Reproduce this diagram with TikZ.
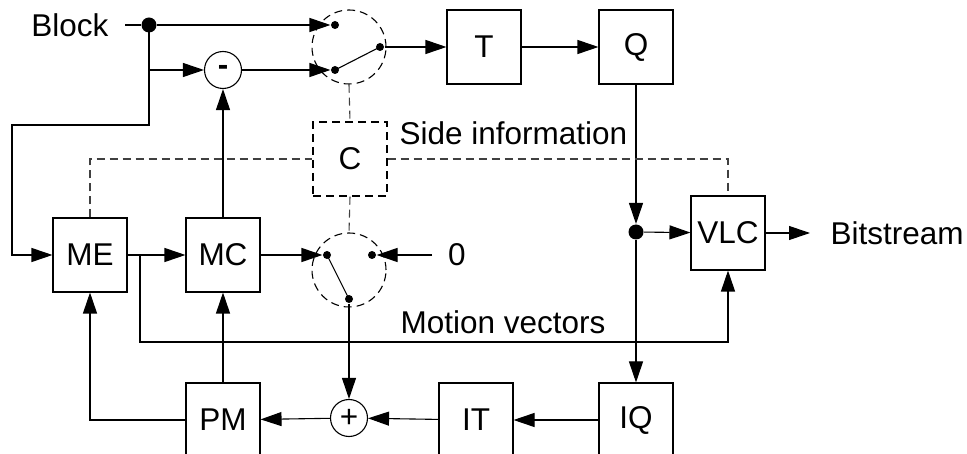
\documentclass[tikz,border=0pt]{standalone}
\usepackage{fontspec}
\setmainfont{Liberation Sans}
\usetikzlibrary{arrows.meta}
\begin{document}
\begin{tikzpicture}[x=1pt,y=-1pt,
  font=\fontsize{31.5}{37}\selectfont,
  line width=1.1pt,
  box/.style={draw, minimum width=74pt, minimum height=74pt, inner sep=0pt},
  sumnode/.style={draw, circle, minimum size=37pt, inner sep=0pt},
  swcirc/.style={draw, dashed, dash pattern=on 8pt off 5pt, circle, minimum size=74pt, inner sep=0pt},
  dbox/.style={draw, dash pattern=on 8pt off 5pt, minimum width=74pt, minimum height=74pt, inner sep=0pt},
  jdot/.style={fill, circle, minimum size=15pt, inner sep=0pt},
  cdot/.style={fill, circle, minimum size=8pt, inner sep=0pt},
  lbl/.style={inner sep=0pt},
  arr/.style={-{Triangle[length=21pt,width=14pt]}},
  dsh/.style={dash pattern=on 8pt off 5pt, black!75}
]
\clip (0,0) rectangle (967,454);
% texts
\node[lbl, anchor=east] (blk) at (109,25) {Block};
\coordinate (bs) at (125,25);
\node[lbl, anchor=west] (side) at (399,133) {Side information};
\node[lbl, anchor=west] (mv) at (400,322) {Motion vectors};
\node[lbl] (zero) at (457,255) {0};
\coordinate (zs) at (432,255);
\node[lbl, anchor=west] (bits) at (830,233) {Bitstream};
\coordinate (be) at (810,233);
% junctions
\node[jdot] (j1) at (149,25) {};
\node[jdot] (j2) at (636,232) {};
% switch 1
\node[swcirc] (sw1) at (349,47) {};
\node[cdot] (s1a) at (335,25) {};
\node[cdot] (s1b) at (335,70) {};
\node[cdot] (s1c) at (380,47) {};
% switch 2
\node[swcirc] (sw2) at (349,270) {};
\node[cdot] (s2a) at (327,255) {};
\node[cdot] (s2b) at (372,255) {};
\node[cdot] (s2c) at (349,299) {};
% sums
\node[sumnode] (minus) at (223,70) {\textbf{-}};
\node[sumnode] (plus) at (349,418) {+};
% boxes
\node[box] (T) at (484,47) {T};
\node[box] (Q) at (636,47) {Q};
\node[dbox] (C) at (350,159) {C};
\node[box] (ME) at (90,255) {ME};
\node[box] (MC) at (223,255) {MC};
\node[box] (VLC) at (728,233) {VLC};
\node[box] (PM) at (223,420) {PM};
\node[box] (IT) at (476,420) {IT};
\node[box] (IQ) at (636,420) {IQ};
% helper coordinates
\coordinate (k1) at (12,125);
\coordinate (k2) at (149,70);
\coordinate (k3) at (140,255);
\coordinate (k4) at (140,342);
% connectors
\draw (bs) -- (j1);
\draw[arr] (j1) -- (s1a);
\draw[arr] (j1.center) |- (k1) |- (ME);
\draw[arr] (k2) -- (minus);
\draw[arr] (minus) -- (s1b);
\draw (s1b.center) -- (s1c.center);
\draw[arr] (s1c) -- (T);
\draw[arr] (T) -- (Q);
\draw[arr] (Q) -- (j2);
\draw[arr] (j2) -- (VLC);
\draw[arr] (j2) -- (IQ);
\draw[arr] (VLC) -- (be);
\draw[arr] (ME) -- (MC);
\draw[arr] (k3) -- (k4) -| (VLC.south);
\draw[arr] (MC) -- (minus);
\draw[arr] (MC) -- (s2a);
\draw (s2a.center) -- (s2c.center);
\draw[arr] (zs) -- (s2b);
\draw[arr] (s2c) -- (plus);
\draw[arr] (IQ) -- (IT);
\draw[arr] (IT) -- (plus);
\draw[arr] (plus) -- (PM);
\draw[arr] (PM) -- (MC);
\draw[arr] (PM.west) -| (ME.south);
% dashed control lines
\draw[dsh] (sw1.south) -- (C.north);
\draw[dsh] (C.south) -- (sw2.north);
\draw[dsh] (ME.north) |- (C.west);
\draw[dsh] (C.east) -| (VLC.north);
\end{tikzpicture}
\end{document}
